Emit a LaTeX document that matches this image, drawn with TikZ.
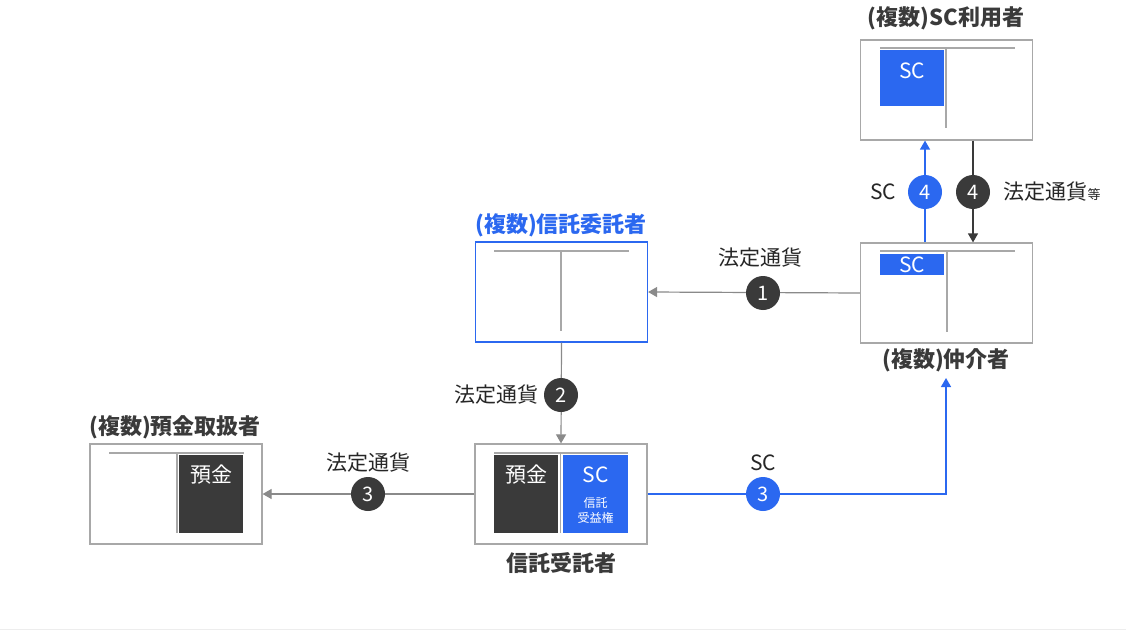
\documentclass[tikz,border=0pt]{standalone}
\usepackage{fontspec}
\setmainfont{Noto Sans CJK JP}
\usetikzlibrary{arrows.meta}
\definecolor{cblue}{HTML}{2B68F0}
\definecolor{cdark}{HTML}{3A3A3A}
\definecolor{cline}{HTML}{8A8A8A}
\definecolor{cbox}{HTML}{A8A8A8}
\tikzset{
  party/.style={draw=cbox, line width=1.2pt, fill=white, minimum width=172pt, minimum height=100pt, inner sep=0pt},
  partyblue/.style={party, draw=cblue},
  inner/.style={draw=cbox, line width=1.2pt},
  head/.style={font=\fontsize{22}{26}\selectfont\bfseries, text=cdark},
  lbl/.style={font=\fontsize{21}{25}\selectfont, text=black!85},
  intext/.style={text=white, font=\fontsize{21}{25}\selectfont},
  num/.style={circle, minimum size=34pt, inner sep=0pt, text=white, font=\fontsize{20}{24}\selectfont},
  numd/.style={num, fill=cdark},
  numb/.style={num, fill=cblue},
  flowg/.style={draw=cline, line width=1.2pt, -{Triangle[width=10pt,length=9pt]}},
  flowd/.style={draw=cdark, line width=1.2pt, -{Triangle[width=10pt,length=9pt]}},
  flowb/.style={draw=cblue, line width=1.4pt, -{Triangle[width=10pt,length=9pt]}},
}
\begin{document}
\begin{tikzpicture}[x=1pt,y=-1pt]
\useasboundingbox (0,0) rectangle (1126,631);
\fill[white] (0,0) rectangle (1126,631);
\draw[black!7, line width=1pt] (0,629) -- (1126,629);

% boxes
\node[party] (user) at (946.5,90) {};
\node[party] (broker) at (946.5,293) {};
\node[partyblue] (settlor) at (561.5,292) {};
\node[party] (trustee) at (561,494) {};
\node[party] (bank) at (176,494) {};

% SC user inner
\draw[inner] (880,48) -- (1015,48);
\draw[inner] (946,48) -- (946,128);
\fill[cblue] (880,50) rectangle (944,106);
\node[intext] (scu) at (912,71) {SC};

% broker inner
\draw[inner] (880,251) -- (1015,251);
\draw[inner] (947,251) -- (947,332);
\fill[cblue] (880,254) rectangle (944,275);
\node[intext] (scb) at (912,265) {SC};

% settlor inner
\draw[inner] (494,251) -- (629,251);
\draw[inner] (561,251) -- (561,331);

% trustee inner
\draw[inner] (494,453) -- (628,453);
\draw[inner] (560.5,453) -- (560.5,533);
\fill[cdark] (494,455) rectangle (558,533);
\fill[cblue] (563,455) rectangle (628,533);
\node[intext] (dep1) at (526,475) {預金};
\node[intext] (sct) at (595.5,475) {SC};
\node[text=white, font=\fontsize{12}{15}\selectfont, align=center] (ben) at (595.5,510) {信託\\受益権};

% bank inner
\draw[inner] (109,453) -- (244,453);
\draw[inner] (177,453) -- (177,533);
\fill[cdark] (179,455) rectangle (243,533);
\node[intext] (dep2) at (211,475) {預金};

% headings
\node[head] (huser) at (946,18) {(複数)SC利用者};
\node[head] (hbroker) at (946,360) {(複数)仲介者};
\node[head, text=cblue] (hsettlor) at (561,225) {(複数)信託委託者};
\node[head] (htrustee) at (561,563) {信託受託者};
\node[head] (hbank) at (175,427) {(複数)預金取扱者};

% flow 1
\draw[flowg] (broker.west) -- (settlor.east);
\node[numd] (n1) at (763,293) {1};
\node[lbl] (l1) at (760,258) {法定通貨};

% flow 2
\draw[flowg] (settlor.south) -- (trustee.north);
\node[numd] (n2) at (561,395) {2};
\node[lbl] (l2) at (496,395) {法定通貨};

% flow 3 grey
\draw[flowg] (trustee.west) -- (bank.east);
\node[numd] (n3a) at (368,494) {3};
\node[lbl] (l3a) at (368,463) {法定通貨};

% flow 3 blue
\coordinate (corner) at (946,494);
\coordinate (bend) at (946,378);
\draw[flowb] (trustee.east) -- (corner) -- (bend);
\node[numb] (n3b) at (763,494) {3};
\node[lbl] (l3b) at (763,463) {SC};

% flow 4 blue
\draw[flowb] (broker.north -| 925,0) -- (user.south -| 925,0);
\node[numb] (n4b) at (925,192) {4};
\node[lbl] (l4b) at (883,192) {SC};

% flow 4 dark
\draw[flowd] (user.south -| 973,0) -- (broker.north -| 973,0);
\node[numd] (n4d) at (973,192) {4};
\node[lbl, anchor=west] (l4d) at (1000,192) {法定通貨{\fontsize{13}{15}\selectfont 等}};
\end{tikzpicture}
\end{document}
